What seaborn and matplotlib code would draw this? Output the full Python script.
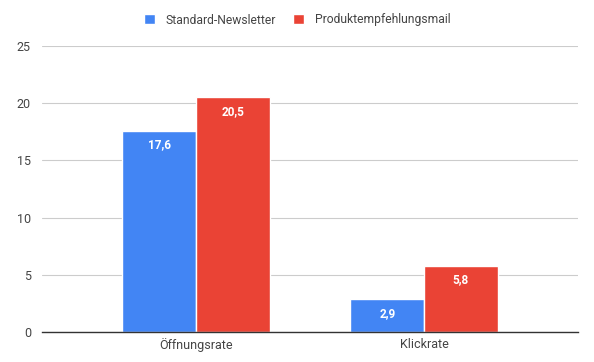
import matplotlib
matplotlib.use("Agg")
import matplotlib.pyplot as plt
import seaborn as sns
import pandas as pd

categories = ["Öffnungsrate", "Klickrate"]
series_names = ["Standard-Newsletter", "Produktempfehlungsmail"]
standard = [17.6, 2.9]
produkt = [20.5, 5.8]
y_ticks = [0, 5, 10, 15, 20, 25]

df = pd.DataFrame({
    "Kategorie": categories * 2,
    "Serie": [series_names[0]] * 2 + [series_names[1]] * 2,
    "Wert": standard + produkt,
})

sns.set_style("white")
plt.rcParams["font.family"] = ["Roboto", "DejaVu Sans"]

fig = plt.figure(figsize=(5.94, 3.62), dpi=100)
ax = fig.add_axes([42 / 594, 30 / 362, 536 / 594, 286 / 362])

palette = {series_names[0]: "#4285F4", series_names[1]: "#EA4335"}
sns.barplot(data=df, x="Kategorie", y="Wert", hue="Serie", order=categories,
            hue_order=series_names, palette=palette, width=0.645, ax=ax,
            edgecolor="white", linewidth=1, saturation=1, errorbar=None)

for cont in ax.containers:
    ax.bar_label(cont, labels=[f"{v:.1f}".replace(".", ",") for v in cont.datavalues],
                 label_type="edge", padding=-15, color="white", fontsize=8.5,
                 fontweight="bold")

ax.set_xlim(-0.675, 1.675)
ax.set_ylim(0, 25)
ax.set_yticks(y_ticks)
ax.set_yticklabels([str(t) for t in y_ticks])
ax.grid(axis="y", color="#cccccc", linewidth=0.8)
ax.set_axisbelow(True)
for s in ["top", "right", "left"]:
    ax.spines[s].set_visible(False)
ax.spines["bottom"].set_color("#333333")
ax.spines["bottom"].set_linewidth(1)
ax.tick_params(axis="both", length=0, labelsize=9, colors="#444444", pad=8)
ax.tick_params(axis="x", pad=4)
ax.set_xlabel("")
ax.set_ylabel("")

handles, labels = ax.get_legend_handles_labels()
ax.legend_.remove()
fig.legend(handles, labels, loc="center", bbox_to_anchor=(0.5, 1 - 20 / 362), ncol=2,
           frameon=False, fontsize=8.7, handlelength=0.9, handleheight=0.9,
           columnspacing=1.4, handletextpad=0.9, labelcolor="#444444")

fig.savefig("out.png", dpi=100)
